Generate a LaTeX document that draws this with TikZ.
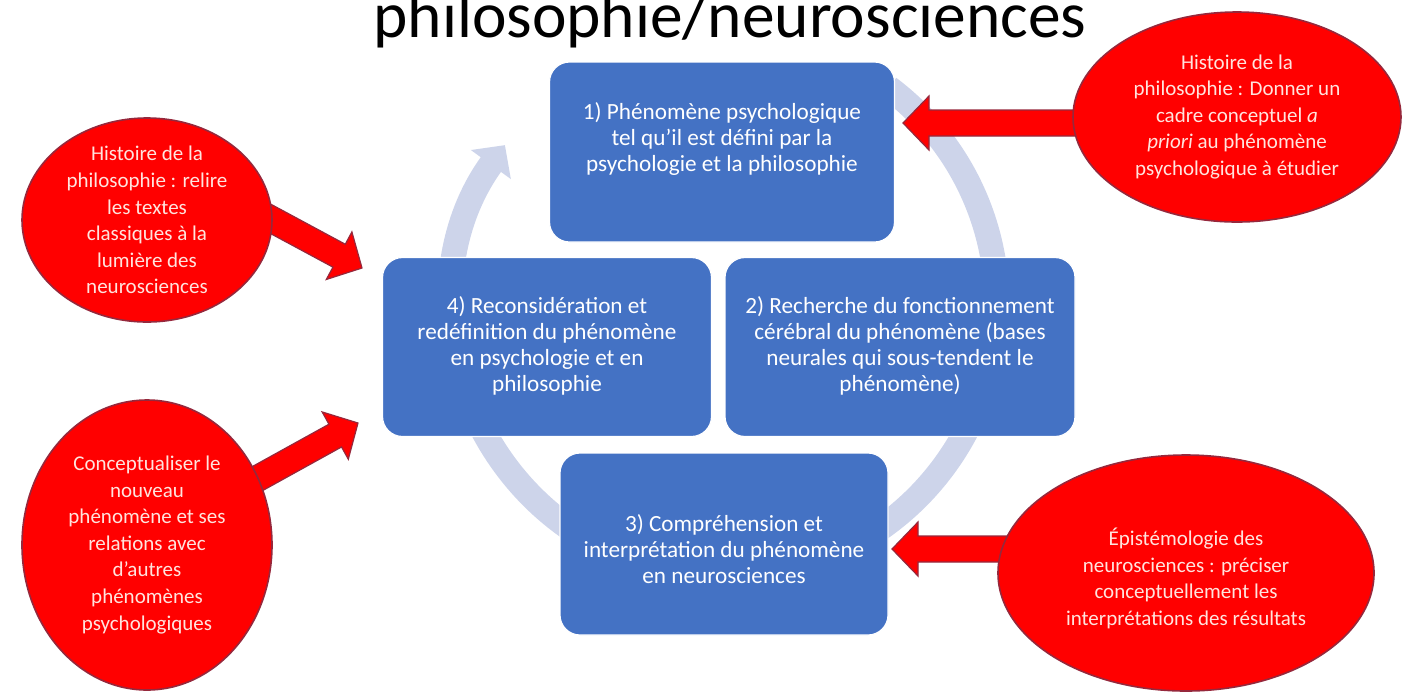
\documentclass[tikz,border=0pt]{standalone}
\usepackage{fontspec}
\setmainfont{Carlito}
\usetikzlibrary{shapes.geometric, calc, arrows.meta, backgrounds}

\definecolor{BoxBlue}{RGB}{68,114,196}
\definecolor{CycleGrey}{RGB}{205,212,234}
\definecolor{ArrowEdge}{RGB}{150,40,60}
\definecolor{BubbleText}{RGB}{255,228,222}

\tikzset
{
  BoxStyle/.style =
  {
    shape = rectangle,
    rounded corners = 10pt,
    fill = BoxBlue,
    draw = white,
    line width = 0.6pt,
    inner sep = 0pt,
  },
  BoxTextStyle/.style =
  {
    text = white,
    font = \fontsize{11.6}{13}\selectfont,
    inner sep = 0pt,
  },
  BubbleStyle/.style =
  {
    shape = ellipse,
    fill = red,
    draw = ArrowEdge,
    line width = 0.8pt,
    inner sep = 0pt,
  },
  BubbleTextStyle/.style =
  {
    text = BubbleText,
    font = \fontsize{10.5}{13.3}\selectfont,
    inner sep = 0pt,
  },
  CycleStyle/.style =
  {
    draw = CycleGrey,
    line width = 12.5pt,
    -{Triangle[width=24pt, length=12pt]},
  },
  BlockArrowStyle/.style =
  {
    fill = red,
    draw = ArrowEdge,
    line width = 0.6pt,
    line join = miter,
  }
}

% block arrow from #1 to the tip #2
\newcommand{\BlockArrow}[2]{%
  \coordinate (#2-back) at ($(#2)!13pt!(#1)$);
  \draw[BlockArrowStyle]
    ($(#1)!6.5pt!90:(#2)$) --
    ($(#2-back)!6.5pt!90:(#2)$) --
    ($(#2-back)!13.5pt!90:(#2)$) --
    (#2) --
    ($(#2-back)!13.5pt!-90:(#2)$) --
    ($(#2-back)!6.5pt!-90:(#2)$) --
    ($(#1)!6.5pt!-90:(#2)$) -- cycle;
}

\begin{document}
\begin{tikzpicture}[x=0.5pt, y=-0.5pt]
  \useasboundingbox (0,0) rectangle (1403,693);

  \node[anchor=base, font=\fontsize{32.7}{38}\selectfont] (title) at (730,37) {philosophie/neurosciences};

  % the four steps
  \node[BoxStyle, minimum width=172.5pt, minimum height=90pt] (phenomene) at (722,152) {};
  \node[BoxStyle, minimum width=175pt, minimum height=89.5pt] (recherche) at (900,347) {};
  \node[BoxStyle, minimum width=164pt, minimum height=91pt] (comprehension) at (724,544) {};
  \node[BoxStyle, minimum width=164.5pt, minimum height=89.5pt] (reconsideration) at (547,347) {};

  \node[BoxTextStyle] (phenomeneText) at (722,140) {
    \begin{tabular}{c}
    1) Phénomène psychologique \\
    tel qu’il est défini par la \\
    psychologie et la philosophie \\
    \end{tabular}
  };
  \node[BoxTextStyle] (rechercheText) at (900,347) {
    \begin{tabular}{c}
    2) Recherche du fonctionnement \\
    cérébral du phénomène (bases \\
    neurales qui sous-tendent le \\
    phénomène) \\
    \end{tabular}
  };
  \node[BoxTextStyle] (comprehensionText) at (724,552) {
    \begin{tabular}{c}
    3) Compréhension et \\
    interprétation du phénomène \\
    en neurosciences \\
    \end{tabular}
  };
  \node[BoxTextStyle] (reconsiderationText) at (547,347) {
    \begin{tabular}{c}
    4) Reconsidération et \\
    redéfinition du phénomène \\
    en psychologie et en \\
    philosophie \\
    \end{tabular}
  };

  % the four bubbles
  \node[BubbleStyle, minimum width=164pt, minimum height=105pt] (histoireCadre) at (1237,117) {};
  \node[BubbleStyle, minimum width=125pt, minimum height=102pt] (histoireTextes) at (147,220) {};
  \node[BubbleStyle, minimum width=125pt, minimum height=145pt] (conceptualiser) at (147,545) {};
  \node[BubbleStyle, minimum width=188pt, minimum height=118pt] (epistemologie) at (1186,573) {};

  \node[BubbleTextStyle] (histoireCadreText) at (1237,117) {
    \begin{tabular}{c}
    Histoire de la \\
    philosophie : Donner un \\
    cadre conceptuel \textit{a} \\
    \textit{priori} au phénomène \\
    psychologique à étudier \\
    \end{tabular}
  };
  \node[BubbleTextStyle] (histoireTextesText) at (147,222) {
    \begin{tabular}{c}
    Histoire de la \\
    philosophie : relire \\
    les textes \\
    classiques à la \\
    lumière des \\
    neurosciences \\
    \end{tabular}
  };
  \node[BubbleTextStyle] (conceptualiserText) at (147,545) {
    \begin{tabular}{c}
    Conceptualiser le \\
    nouveau \\
    phénomène et ses \\
    relations avec \\
    d’autres \\
    phénomènes \\
    psychologiques \\
    \end{tabular}
  };
  \node[BubbleTextStyle] (epistemologieText) at (1186,580) {
    \begin{tabular}{c}
    Épistémologie des \\
    neurosciences : préciser \\
    conceptuellement les \\
    interprétations des résultats \\
    \end{tabular}
  };

  % tips of the red arrows
  \coordinate (tipCadre) at (903,123);
  \coordinate (tipTextes) at (362,268);
  \coordinate (tipConcept) at (358,423);
  \coordinate (tipEpist) at (892,549);

  \begin{scope}[on background layer]
    % cycle
    \draw[CycleStyle] ($(725,305)+(-53:272)$) arc[start angle=-53, end angle=216, radius=272];

    \BlockArrow{histoireCadre.center |- tipCadre}{tipCadre}
    \BlockArrow{epistemologie.center |- tipEpist}{tipEpist}
    \coordinate (fromTextes) at ($(histoireTextes.east)!-10pt!(tipTextes)$);
    \BlockArrow{fromTextes}{tipTextes}
    \coordinate (fromConcept) at ($(conceptualiser.31)!-10pt!(tipConcept)$);
    \BlockArrow{fromConcept}{tipConcept}
  \end{scope}
\end{tikzpicture}
\end{document}
